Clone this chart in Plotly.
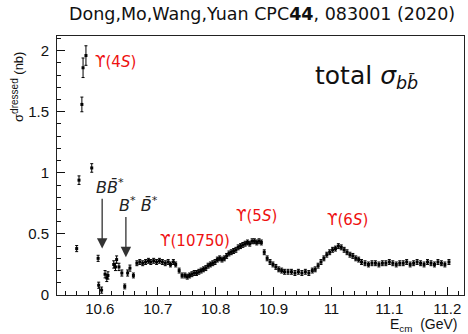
import plotly.graph_objects as go

# Dressed total b-bbar cross section scan (nb) vs centre-of-mass energy (GeV)
energy = [
    10.560, 10.564, 10.569, 10.571, 10.576, 10.586, 10.597, 10.598, 10.603, 10.609,
    10.612, 10.614, 10.624, 10.627, 10.629, 10.633, 10.638, 10.643, 10.648, 10.652,
    10.658, 10.664, 10.669, 10.674, 10.679, 10.684, 10.688, 10.693, 10.698, 10.703,
    10.708, 10.713, 10.718, 10.722, 10.727, 10.731, 10.737, 10.742, 10.747, 10.751,
    10.755, 10.759, 10.763, 10.767, 10.771, 10.775, 10.779, 10.783, 10.787, 10.791,
    10.795, 10.799, 10.803, 10.807, 10.811, 10.815, 10.819, 10.823, 10.827, 10.831,
    10.835, 10.839, 10.843, 10.847, 10.851, 10.855, 10.859, 10.863, 10.867, 10.871,
    10.875, 10.879, 10.884, 10.889, 10.894, 10.899, 10.904, 10.909, 10.914, 10.919,
    10.925, 10.931, 10.937, 10.943, 10.949, 10.955, 10.961, 10.967, 10.972, 10.977,
    10.982, 10.987, 10.992, 10.997, 11.002, 11.007, 11.012, 11.017, 11.022, 11.027,
    11.032, 11.037, 11.042, 11.047, 11.052, 11.058, 11.064, 11.070, 11.076, 11.082,
    11.088, 11.094, 11.100, 11.106, 11.112, 11.118, 11.124, 11.130, 11.136, 11.142,
    11.148, 11.154, 11.160, 11.166, 11.172, 11.178, 11.184, 11.190, 11.196, 11.203,
]
sigma = [
    0.38, 0.94, 1.56, 1.86, 1.96, 1.04, 0.30, 0.08, 0.04, 0.17,
    0.14, 0.16, 0.25, 0.23, 0.29, 0.23, 0.18, 0.07, 0.18, 0.22,
    0.16, 0.26, 0.27, 0.26, 0.27, 0.28, 0.27, 0.28, 0.27, 0.28,
    0.27, 0.26, 0.27, 0.25, 0.27, 0.25, 0.20, 0.16, 0.16, 0.15,
    0.16, 0.17, 0.18, 0.18, 0.19, 0.20, 0.21, 0.22, 0.24, 0.25,
    0.26, 0.27, 0.29, 0.30, 0.29, 0.30, 0.32, 0.34, 0.35, 0.36,
    0.37, 0.39, 0.40, 0.41, 0.42, 0.43, 0.42, 0.44, 0.44, 0.43,
    0.44, 0.43, 0.35, 0.30, 0.27, 0.25, 0.23, 0.21, 0.20, 0.19,
    0.19, 0.19, 0.18, 0.19, 0.18, 0.19, 0.18, 0.20, 0.21, 0.24,
    0.27, 0.30, 0.33, 0.35, 0.37, 0.38, 0.40, 0.39, 0.37, 0.35,
    0.33, 0.32, 0.30, 0.29, 0.27, 0.26, 0.25, 0.26, 0.26, 0.25,
    0.26, 0.26, 0.27, 0.26, 0.25, 0.26, 0.26, 0.27, 0.25, 0.26,
    0.27, 0.26, 0.25, 0.27, 0.26, 0.25, 0.27, 0.26, 0.25, 0.27,
]
sigma_err = [
    0.025, 0.035, 0.06, 0.08, 0.08, 0.035, 0.025, 0.025, 0.025, 0.03,
    0.03, 0.03, 0.03, 0.03, 0.03, 0.03, 0.025, 0.02, 0.025, 0.025,
] + [0.02] * 110

x_ticks = [10.6, 10.7, 10.8, 10.9, 11.0, 11.1, 11.2]
x_tick_text = ["10.6", "10.7", "10.8", "10.9", "11", "11.1", "11.2"]
y_ticks = [0, 0.5, 1.0, 1.5, 2.0]
y_tick_text = ["0", "0.5", "1", "1.5", "2"]

# Resonance labels (text, energy, cross section position)
res_labels = ["ϒ(4<i>S</i>)", "ϒ(10750)", "ϒ(5<i>S</i>)", "ϒ(6<i>S</i>)"]
res_x = [10.627, 10.765, 10.871, 11.028]
res_y = [1.91, 0.44, 0.65, 0.61]

# Open-bottom thresholds marked by arrows
thr_labels = ["<i>B</i><i>B\u0304</i><sup>*</sup>", "<i>B</i><sup>*</sup> <i>B\u0304</i><sup>*</sup>"]
thr_x = [10.604, 10.645]
thr_label_x = [10.617, 10.667]
thr_label_y = [0.885, 0.74]
thr_tail = [0.80, 0.65]
thr_head = [0.38, 0.31]

RED = "#ee1111"
FONT = "Liberation Sans, Arial, sans-serif"
DJV = "DejaVu Sans, sans-serif"

fig = go.Figure()
fig.add_trace(go.Scatter(
    x=energy, y=sigma,
    mode="markers",
    marker=dict(symbol="square", size=3, color="black"),
    error_y=dict(type="data", array=sigma_err, color="black", thickness=1, width=1.5),
    showlegend=False,
))

ann = []
for t, x, y in zip(res_labels, res_x, res_y):
    ann.append(dict(x=x, y=y, xref="x", yref="y", text=t, showarrow=False,
                    font=dict(family=DJV, size=15, color=RED)))
for t, lx, ly in zip(thr_labels, thr_label_x, thr_label_y):
    ann.append(dict(x=lx, y=ly, xref="x", yref="y", text=t, showarrow=False,
                    font=dict(family=DJV, size=16, color="#222")))
for x, tail, head in zip(thr_x, thr_tail, thr_head):
    ann.append(dict(x=x, y=head, ax=x, ay=tail, xref="x", yref="y", axref="x", ayref="y",
                    text="", showarrow=True, arrowhead=2, arrowsize=1.6, arrowwidth=1.3,
                    arrowcolor="#333"))

ann.append(dict(x=0.504, y=1.085, xref="paper", yref="paper", xanchor="center", yanchor="middle",
                text="Dong,Mo,Wang,Yuan CPC<b>44</b>, 083001 (2020)", showarrow=False,
                font=dict(family=DJV, size=17.5, color="#111")))
ann.append(dict(x=0.76, y=0.84, xref="paper", yref="paper", xanchor="center", yanchor="middle",
                text="total <i>σ</i><sub><i>bb\u0304</i></sub>", showarrow=False,
                font=dict(family=DJV, size=25, color="#111")))
ann.append(dict(x=-0.096, y=0.946, xref="paper", yref="paper", xanchor="center", yanchor="top",
                textangle=-90,
                text="σ<sup><span style='font-size:10px'>dressed</span></sup> (nb)",
                showarrow=False, font=dict(family=FONT, size=13, color="#111")))
ann.append(dict(x=0.99, y=-0.075, xref="paper", yref="paper", xanchor="right", yanchor="top",
                text="E<sub>cm</sub>  (GeV)", showarrow=False,
                font=dict(family=FONT, size=14, color="#111")))

fig.update_layout(
    width=468, height=334,
    margin=dict(l=57, r=4, t=36, b=39),
    paper_bgcolor="white", plot_bgcolor="white",
    annotations=ann,
    xaxis=dict(range=[10.526, 11.229], tickvals=x_ticks, ticktext=x_tick_text,
               ticks="inside", ticklen=8, tickwidth=1, tickcolor="#111",
               minor=dict(dtick=0.02, tick0=10.6, ticks="inside", ticklen=4, tickcolor="#111"),
               showline=True, linecolor="#222", linewidth=1, mirror=True,
               showgrid=False, zeroline=False,
               tickfont=dict(family=FONT, size=15, color="#111")),
    yaxis=dict(range=[0, 2.12], tickvals=y_ticks, ticktext=y_tick_text,
               ticks="inside", ticklen=8, tickwidth=1, tickcolor="#111",
               minor=dict(dtick=0.1, tick0=0, ticks="inside", ticklen=4, tickcolor="#111"),
               showline=True, linecolor="#222", linewidth=1, mirror=True,
               showgrid=False, zeroline=False, ticklabelstandoff=4,
               tickfont=dict(family=FONT, size=15, color="#111")),
)

fig.write_html("out.html")
